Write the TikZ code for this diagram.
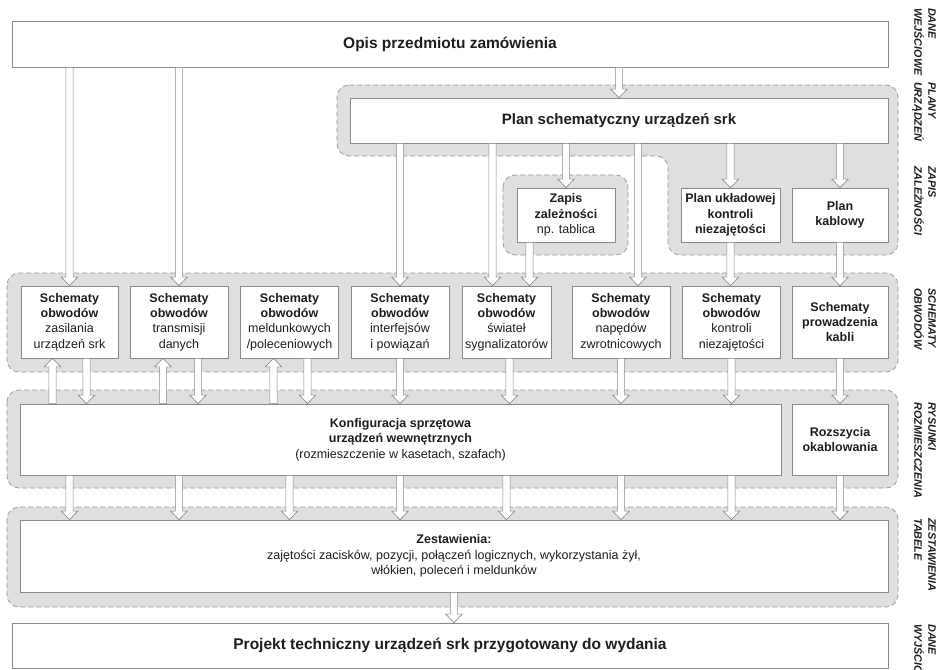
\documentclass[tikz,border=0pt]{standalone}
\usepackage{fontspec}
\setmainfont{Liberation Sans}
\usetikzlibrary{calc}

\definecolor{grpfill}{HTML}{DFDFDF}
\definecolor{grpline}{HTML}{989898}
\definecolor{boxline}{HTML}{8A8A8A}
\definecolor{txt}{HTML}{1E1E1E}

\tikzset{
  box/.style={draw=boxline, fill=white, line width=.7pt, align=center, inner sep=0pt, text=txt,
    font=\fontsize{12.5}{15.3}\selectfont},
  boldbox/.style={box, font=\fontsize{12.5}{15.3}\selectfont\bfseries},
  bigbox/.style={box, font=\fontsize{15.5}{18}\selectfont\bfseries},
  sch/.style={box, minimum width=98, minimum height=72},
  grp/.style={draw=grpline, fill=grpfill, dash pattern=on 5pt off 3pt, rounded corners=12pt, line width=.7pt},
  lab/.style={rotate=-90, anchor=north west, align=left, inner sep=0pt, text=txt,
    font=\fontsize{10.8}{14}\selectfont\bfseries\itshape},
  harrow/.style={draw=boxline, fill=white, line width=.65pt,
    to path={let \p1=(\tikztostart), \p2=(\tikztotarget), \n2={\y2+8.5pt*sign(\y1-\y2)} in
      (\x1-3.6pt,\y1) -- (\x1-3.6pt,\n2) -- (\x1-8.2pt,\n2) -- (\x1,\y2)
      -- (\x1+8.2pt,\n2) -- (\x1+3.6pt,\n2) -- (\x1+3.6pt,\y1) -- cycle}},
}

\begin{document}
\begin{tikzpicture}[x=1pt, y=-1pt]
\useasboundingbox (0,0) rectangle (944,669);

\path[grp] (337,85) -- (898,85) -- (898,255) -- (668,255) -- (668,156) -- (337,156) -- cycle;
\path[grp] (503,175) rectangle (628,255);
\path[grp] (7,273) rectangle (898,372);
\path[grp] (7,390) rectangle (898,488);
\path[grp] (7,507) rectangle (898,607);

\node[bigbox, minimum width=876, minimum height=46] (opis) at (450,44) {Opis przedmiotu zamówienia};
\node[bigbox, font=\fontsize{15}{18}\selectfont\bfseries, minimum width=538, minimum height=45] (plan) at (619,120.5) {Plan schematyczny urządzeń srk};

\node[box, minimum width=98, minimum height=54] (zap) at (566,215) {\textbf{Zapis}\\\textbf{zależności}\\np. tablica};
\node[boldbox, minimum width=99, minimum height=54] (puk) at (730.5,215) {Plan układowej\\kontroli\\niezajętości};
\node[boldbox, minimum width=96, minimum height=54] (kab) at (840,215) {Plan\\kablowy};

\node[sch, minimum width=97] (sz1) at (69.5,322) {\textbf{Schematy}\\\textbf{obwodów}\\zasilania\\urządzeń srk};
\node[sch] (sz2) at (179,322) {\textbf{Schematy}\\\textbf{obwodów}\\transmisji\\danych};
\node[sch] (sz3) at (289.5,322) {\textbf{Schematy}\\\textbf{obwodów}\\meldunkowych\\/poleceniowych};
\node[sch] (sz4) at (400,322) {\textbf{Schematy}\\\textbf{obwodów}\\interfejsów\\i powiązań};
\node[sch, minimum width=89] (sz5) at (506.5,322) {\textbf{Schematy}\\\textbf{obwodów}\\świateł\\sygnalizatorów};
\node[sch] (sz6) at (621,322) {\textbf{Schematy}\\\textbf{obwodów}\\napędów\\zwrotnicowych};
\node[sch] (sz7) at (731.5,322) {\textbf{Schematy}\\\textbf{obwodów}\\kontroli\\niezajętości};
\node[sch, boldbox, minimum width=96] (sz8) at (840,322) {Schematy\\prowadzenia\\kabli};

\node[box, minimum width=761, minimum height=71] (konf) at (400.5,439.5) {\textbf{Konfiguracja sprzętowa}\\\textbf{urządzeń wewnętrznych}\\(rozmieszczenie w kasetach, szafach)};
\node[boldbox, minimum width=96, minimum height=71] (roz) at (840,439.5) {Rozszycia\\okablowania};

\node[box, minimum width=868, minimum height=72] (zest) at (454,556) {\textbf{Zestawienia:}\\zajętości zacisków, pozycji, połączeń logicznych, wykorzystania żył,\\włókien, poleceń i meldunków};
\node[bigbox, minimum width=876, minimum height=45] (proj) at (450,645.5) {Projekt techniczny urządzeń srk przygotowany do wydania};

\node[lab] (l1) at (936,8) {DANE\\WEJŚCIOWE};
\node[lab] (l2) at (936,82) {PLANY\\URZĄDZEŃ};
\node[lab] (l3) at (936,166) {ZAPIS\\ZALEŻNOŚCI};
\node[lab] (l4) at (936,288) {SCHEMATY\\OBWODÓW};
\node[lab] (l5) at (936,402) {RYSUNKI\\ROZMIESZCZENIA};
\node[lab] (l6) at (936,518) {ZESTAWIENIA\\TABELE};
\node[lab] (l7) at (936,624) {DANE\\WYJŚCIOWE};

\path
(opis.south -| sz1) edge[harrow] (sz1.north)
(opis.south -| sz2) edge[harrow] (sz2.north)
(opis.south -| plan) edge[harrow] (plan.north)
(plan.south -| sz4) edge[harrow] (sz4.north)
([xshift=-14]sz5.north |- plan.south) edge[harrow] ([xshift=-14]sz5.north)
(plan.south -| zap) edge[harrow] (zap.north)
([xshift=17]sz6.north |- plan.south) edge[harrow] ([xshift=17]sz6.north)
(plan.south -| puk) edge[harrow] (puk.north)
(plan.south -| kab) edge[harrow] (kab.north)
([xshift=23]sz5.north |- zap.south) edge[harrow] ([xshift=23]sz5.north)
(puk.south) edge[harrow] (puk.south |- sz7.north)
(kab.south) edge[harrow] (sz8.north);

\path
([xshift=-17]sz1.south |- konf.north) edge[harrow] ([xshift=-17]sz1.south)
([xshift=17]sz1.south) edge[harrow] ([xshift=17]sz1.south |- konf.north)
([xshift=-16]sz2.south |- konf.north) edge[harrow] ([xshift=-16]sz2.south)
([xshift=19]sz2.south) edge[harrow] ([xshift=19]sz2.south |- konf.north)
([xshift=-16]sz3.south |- konf.north) edge[harrow] ([xshift=-16]sz3.south)
([xshift=18]sz3.south) edge[harrow] ([xshift=18]sz3.south |- konf.north)
(sz4.south) edge[harrow] (sz4.south |- konf.north)
([xshift=3]sz5.south) edge[harrow] ([xshift=3]sz5.south |- konf.north)
(sz6.south) edge[harrow] (sz6.south |- konf.north)
(sz7.south) edge[harrow] (sz7.south |- konf.north)
(sz8.south) edge[harrow] (roz.north);

\path
(konf.south -| sz1) edge[harrow] (zest.north -| sz1)
(konf.south -| sz2) edge[harrow] (zest.north -| sz2)
(konf.south -| sz3) edge[harrow] (zest.north -| sz3)
(konf.south -| sz4) edge[harrow] (zest.north -| sz4)
(konf.south -| sz5) edge[harrow] (zest.north -| sz5)
(konf.south -| sz6) edge[harrow] (zest.north -| sz6)
(konf.south -| sz7) edge[harrow] (zest.north -| sz7)
(roz.south) edge[harrow] (zest.north -| roz)
(zest.south) edge[harrow] (zest.south |- proj.north);
\end{tikzpicture}
\end{document}
